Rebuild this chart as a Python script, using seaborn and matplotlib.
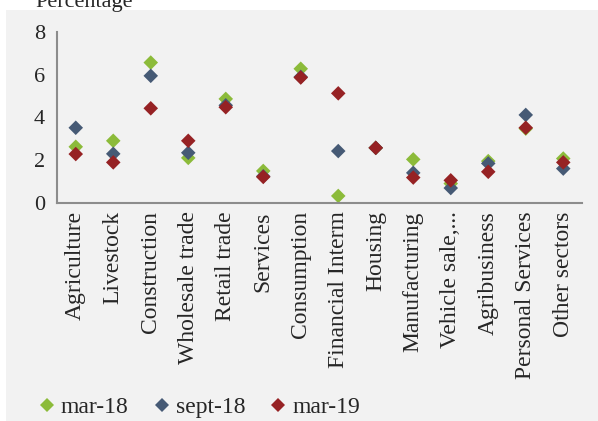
import numpy as np
import pandas as pd
import matplotlib.pyplot as plt
import seaborn as sns
from matplotlib.patches import Rectangle

# Data
sectors = ['Agriculture', 'Livestock', 'Construction', 'Wholesale trade', 'Retail trade',
           'Services', 'Consumption', 'Financial Interm', 'Housing', 'Manufacturing',
           'Vehicle sale,...', 'Agribusiness', 'Personal Services', 'Other sectors']
mar18 = [2.63, 2.91, 6.57, 2.11, 4.87, 1.50, 6.28, 0.33, 2.58, 2.04, 0.91, 1.96, 3.48, 2.08]
sept18 = [3.52, 2.30, 5.95, 2.35, 4.57, 1.25, 5.90, 2.43, 2.58, 1.41, 0.70, 1.85, 4.12, 1.61]
mar19 = [2.29, 1.90, 4.43, 2.91, 4.48, 1.22, 5.87, 5.13, 2.58, 1.19, 1.06, 1.46, 3.52, 1.90]
periods = ['mar-18', 'sept-18', 'mar-19']
colors = ['#8cbb3a', '#465a75', '#962224']

df = pd.concat([
    pd.DataFrame({'sector': sectors, 'value': vals, 'period': p})
    for p, vals in zip(periods, [mar18, sept18, mar19])
], ignore_index=True)

sns.set_style('white')
plt.rcParams['font.family'] = ['Liberation Serif', 'DejaVu Serif']

fig = plt.figure(figsize=(5.98, 4.21), dpi=100)
# grey panel behind the chart
fig.patches.append(Rectangle((6 / 598, 0), 1, 1 - 10 / 421, transform=fig.transFigure,
                             facecolor='#f2f2f2', edgecolor='none', zorder=-10))
ax = fig.add_axes([57 / 598, (421 - 203) / 421, (582 - 57) / 598, (203 - 32) / 421])
ax.set_facecolor('none')

sns.scatterplot(data=df, x='sector', y='value', hue='period', palette=colors,
                marker='D', s=55, linewidth=0, ax=ax)

ax.set_xlim(-0.5, len(sectors) - 0.5)
ax.set_ylim(0, 8)
ax.set_yticks([0, 2, 4, 6, 8])
ax.set_xticks(range(len(sectors)))
ax.set_xticklabels(sectors, rotation=90, fontsize=17)
ax.set_xticks(np.arange(-0.5, len(sectors)), minor=True)
ax.tick_params(axis='x', which='major', length=0, pad=6)
ax.tick_params(axis='x', which='minor', length=5, width=1.5, color='#8c8c8c', direction='out')
ax.tick_params(axis='y', length=5, width=1.5, color='#8c8c8c', direction='out', labelsize=16)
for side in ['top', 'right']:
    ax.spines[side].set_visible(False)
for side in ['left', 'bottom']:
    ax.spines[side].set_color('#8c8c8c')
    ax.spines[side].set_linewidth(1.5)
ax.set_xlabel('')
ax.set_ylabel('')

handles, labels = ax.get_legend_handles_labels()
ax.legend(handles, labels, loc='center', bbox_to_anchor=(200 / 598, 14 / 421),
          bbox_transform=fig.transFigure, ncol=3, frameon=False, fontsize=17,
          handlelength=0.6, handletextpad=0.3, columnspacing=1.1, borderpad=0)

fig.text(35 / 598, 1 - 7 / 421, 'Percentage', fontsize=16, va='baseline', ha='left')

fig.savefig('out.png', dpi=100)
